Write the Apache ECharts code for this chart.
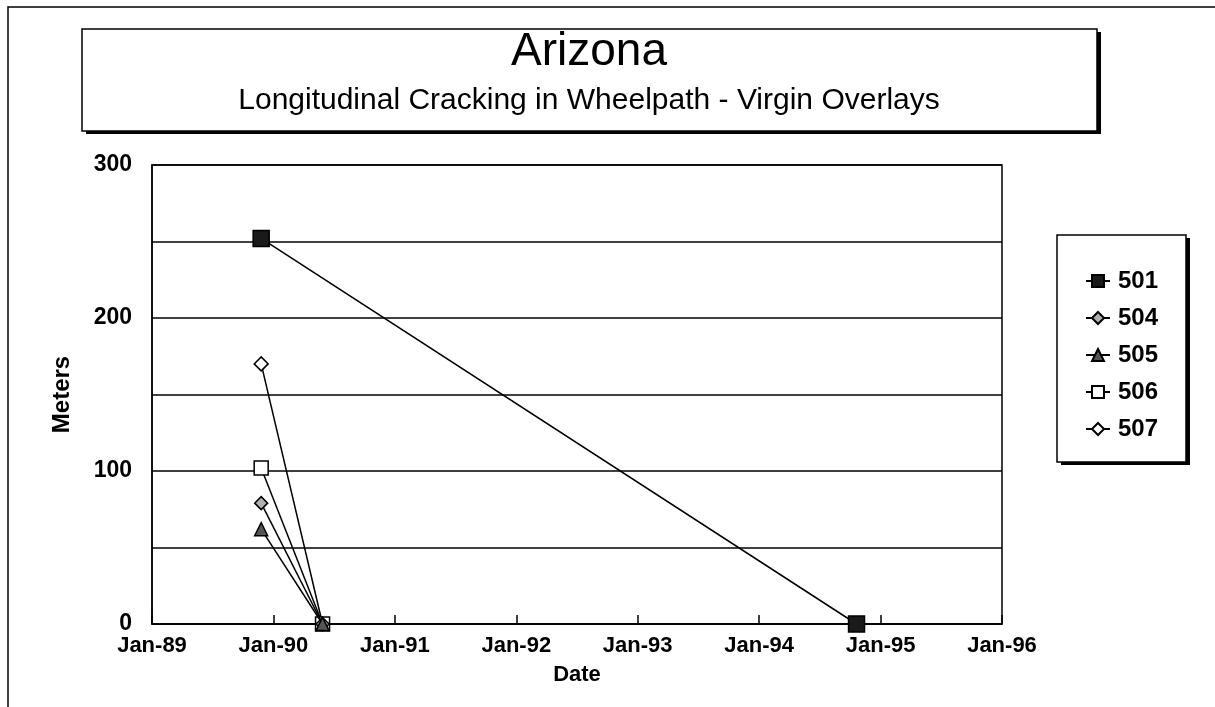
<!DOCTYPE html>
<html>
<head>
<meta charset="utf-8">
<script src="https://cdn.jsdelivr.net/npm/echarts@6/dist/echarts.min.js"></script>
<style>
  html, body { margin: 0; padding: 0; background: #fff; }
  #container { width: 1215px; height: 707px; }
</style>
</head>
<body>
<div id="container"></div>
<script>
  // readings from the picture
  const seriesNames = ['501', '504', '505', '506', '507']
  const dates501 = ['1989-11-25', '1994-10-20']
  const datesOther = ['1989-11-25', '1990-05-27']
  const values501 = [252, 0]
  const values504 = [79, 0]
  const values505 = [62, 0]
  const values506 = [102, 0]
  const values507 = [170, 0]
  const yearTicks = [1989, 1990, 1991, 1992, 1993, 1994, 1995, 1996]

  const FONT = 'Liberation Sans, Arial, sans-serif'

  // date string -> decimal year
  function toYear(s) {
    const p = s.split('-').map(Number)
    return p[0] + (p[1] - 1) / 12 + (p[2] - 1) / 365
  }
  function pairs(dates, values) {
    return dates.map((d, i) => [toYear(d), values[i]])
  }

  const markers = {
    '501': { symbol: 'rect', size: 16, fill: '#1a1a1a' },
    '504': { symbol: 'diamond', size: 13, fill: '#b0b0b0' },
    '505': { symbol: 'triangle', size: 13, fill: '#555' },
    '506': { symbol: 'rect', size: 14, fill: '#fff' },
    '507': { symbol: 'diamond', size: 14, fill: '#fff' }
  }
  const seriesData = {
    '501': pairs(dates501, values501),
    '504': pairs(datesOther, values504),
    '505': pairs(datesOther, values505),
    '506': pairs(datesOther, values506),
    '507': pairs(datesOther, values507)
  }
  // draw order at the shared zero point (darker marks on top, like the scan)
  const zOrder = { '501': 6, '504': 4, '505': 5, '506': 3, '507': 2 }

  const myChart = echarts.init(document.getElementById('container'))
  myChart.setOption({
    animation: false,
    textStyle: { fontFamily: FONT, color: '#000' },
    graphic: [
      // outer frame
      { type: 'rect', shape: { x: 8, y: 7, width: 1230, height: 740 }, style: { fill: 'none', stroke: '#000', lineWidth: 1.5 }, z: 0 },
      // title box with shadow
      { type: 'rect', shape: { x: 86, y: 32, width: 1015, height: 102 }, style: { fill: '#000' }, z: 1 },
      { type: 'rect', shape: { x: 82, y: 29, width: 1015, height: 102 }, style: { fill: '#fff', stroke: '#000', lineWidth: 1.5 }, z: 2 },
      { type: 'text', x: 589, y: 52, z: 3, style: { text: 'Arizona', font: '46px ' + FONT, fill: '#000', align: 'center', verticalAlign: 'middle' } },
      { type: 'text', x: 589, y: 101, z: 3, style: { text: 'Longitudinal Cracking in Wheelpath - Virgin Overlays', font: '30px ' + FONT, fill: '#000', align: 'center', verticalAlign: 'middle' } },
      // legend box with shadow
      { type: 'rect', shape: { x: 1061, y: 238, width: 129, height: 227 }, style: { fill: '#000' }, z: 1 },
      { type: 'rect', shape: { x: 1057, y: 235, width: 129, height: 227 }, style: { fill: '#fff', stroke: '#000', lineWidth: 1.5 }, z: 2 }
    ],
    legend: {
      data: seriesNames,
      orient: 'vertical',
      left: 1080,
      top: 264,
      itemGap: 13,
      itemWidth: 24,
      itemHeight: 15,
      z: 5,
      textStyle: { fontFamily: FONT, fontSize: 24, fontWeight: 'bold', color: '#000', padding: [0, 0, 0, 3] }
    },
    grid: {
      left: 152,
      right: 213,
      top: 165,
      bottom: 83,
      show: true,
      borderColor: '#000',
      borderWidth: 1.5,
      backgroundColor: 'transparent'
    },
    xAxis: {
      type: 'value',
      min: yearTicks[0],
      max: yearTicks[yearTicks.length - 1],
      interval: 1,
      name: 'Date',
      nameLocation: 'middle',
      nameGap: 40,
      nameTextStyle: { fontSize: 22, fontWeight: 'bold', color: '#000' },
      axisLine: { lineStyle: { color: '#000', width: 1.5 } },
      axisTick: { inside: true, length: 9, lineStyle: { color: '#000', width: 1.5 } },
      splitLine: { show: false },
      axisLabel: {
        margin: 11,
        fontSize: 22,
        fontWeight: 'bold',
        color: '#000',
        formatter: v => 'Jan-' + String(v).slice(2)
      }
    },
    yAxis: {
      type: 'value',
      min: 0,
      max: 300,
      interval: 50,
      name: 'Meters',
      nameLocation: 'middle',
      nameGap: 78,
      nameTextStyle: { fontSize: 24, fontWeight: 'bold', color: '#000' },
      axisLine: { show: true, lineStyle: { color: '#000', width: 1.5 } },
      axisTick: { show: false },
      splitLine: { lineStyle: { color: '#000', width: 1.5 } },
      axisLabel: {
        margin: 20,
        fontSize: 23,
        fontWeight: 'bold',
        color: '#000',
        formatter: v => (v % 100 === 0 ? String(v) : '')
      }
    },
    series: seriesNames.map(name => ({
      name: name,
      type: 'line',
      data: seriesData[name],
      clip: false,
      symbol: markers[name].symbol,
      symbolSize: markers[name].size,
      showAllSymbol: true,
      lineStyle: { color: '#000', width: 1.5 },
      itemStyle: { color: markers[name].fill, borderColor: '#000', borderWidth: 1.5 },
      z: zOrder[name]
    }))
  })
</script>
</body>
</html>
